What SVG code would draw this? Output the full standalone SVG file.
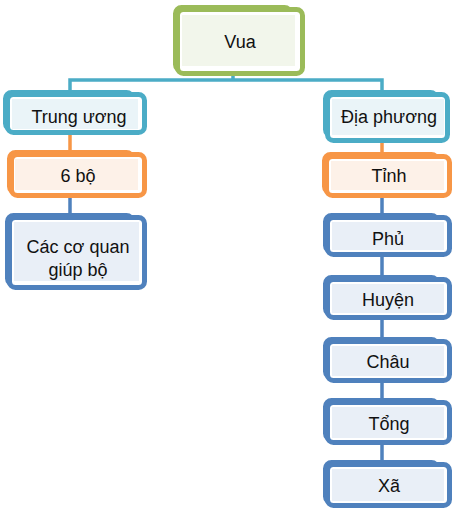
<svg xmlns="http://www.w3.org/2000/svg" width="463" height="519" viewBox="0 0 463 519">
<style>
.bk{stroke-width:5;fill:none}
.fr{stroke-width:5;fill:#ffffff}
.g{stroke:#9bbb59}
.t{stroke:#4bacc6}
.o{stroke:#f79646}
.b{stroke:#4f81bd}
.fg{fill:#f2f6eb}
.ft{fill:#eaf4f8}
.fo{fill:#fdf1e8}
.fb{fill:#e9eff7}
.c{fill:none;stroke-width:3.5}
text{font-family:"Liberation Sans",Arial,sans-serif;font-size:18px;fill:#111111;text-anchor:middle}
</style>
<rect width="463" height="519" fill="#ffffff"/>
<g id="connectors">
<path class="c t" d="M233,74 V80 M70,93 V80 H382 V93"/>
<path class="c o" d="M70,133 V152 M382,140 V154"/>
<path class="c b" d="M70,196 V215 M382,196 V215 M382,255 V277 M382,318 V339 M382,381 V400 M382,443 V462"/>
</g>
<g id="vua">
<rect class="bk g" x="175.5" y="7.5" width="115" height="63" rx="6"/>
<rect class="fr g" x="177.5" y="9.5" width="125" height="64" rx="6"/>
<rect class="fg" x="182" y="15" width="113" height="51"/>
<text x="240" y="48">Vua</text>
</g>
<g id="trung-uong">
<rect class="bk t" x="5.5" y="92.5" width="127" height="37" rx="6"/>
<rect class="fr t" x="7.5" y="94.5" width="137" height="38" rx="6"/>
<rect class="ft" x="12" y="99" width="126" height="30"/>
<text x="79" y="123">Trung ương</text>
</g>
<g id="sau-bo">
<rect class="bk o" x="9.5" y="152.5" width="123" height="40" rx="6"/>
<rect class="fr o" x="11.5" y="154.5" width="133" height="41" rx="6"/>
<rect class="fo" x="15" y="159" width="123" height="31"/>
<text x="78" y="182">6 bộ</text>
</g>
<g id="cac-co-quan">
<rect class="bk b" x="7.5" y="215.5" width="125" height="69" rx="6"/>
<rect class="fr b" x="9.5" y="217.5" width="135" height="70" rx="6"/>
<rect class="fb" x="14" y="222" width="125" height="59"/>
<text x="78" y="253">Các cơ quan</text>
<text x="78" y="276">giúp bộ</text>
</g>
<g id="dia-phuong">
<rect class="bk t" x="325.5" y="92.5" width="111" height="43" rx="6"/>
<rect class="fr t" x="327.5" y="94.5" width="120" height="46" rx="6"/>
<rect class="ft" x="332" y="99" width="112" height="36"/>
<text x="389" y="123">Địa phương</text>
</g>
<g id="tinh">
<rect class="bk o" x="324.5" y="154.5" width="113" height="38" rx="6"/>
<rect class="fr o" x="326.5" y="156.5" width="123" height="39" rx="6"/>
<rect class="fo" x="331" y="161" width="113" height="29"/>
<text x="389" y="182">Tỉnh</text>
</g>
<g id="phu">
<rect class="bk b" x="325.5" y="215.5" width="112" height="36" rx="6"/>
<rect class="fr b" x="327.5" y="217.5" width="122" height="37" rx="6"/>
<rect class="fb" x="332" y="222" width="112" height="28"/>
<text x="388" y="245">Phủ</text>
</g>
<g id="huyen">
<rect class="bk b" x="325.5" y="277.5" width="112" height="37" rx="6"/>
<rect class="fr b" x="327.5" y="279.5" width="122" height="38" rx="6"/>
<rect class="fb" x="332" y="284" width="112" height="29"/>
<text x="388" y="306">Huyện</text>
</g>
<g id="chau">
<rect class="bk b" x="325.5" y="339.5" width="112" height="38" rx="6"/>
<rect class="fr b" x="327.5" y="341.5" width="122" height="39" rx="6"/>
<rect class="fb" x="332" y="346" width="112" height="30"/>
<text x="388" y="368">Châu</text>
</g>
<g id="tong">
<rect class="bk b" x="325.5" y="400.5" width="112" height="39" rx="6"/>
<rect class="fr b" x="327.5" y="402.5" width="122" height="40" rx="6"/>
<rect class="fb" x="332" y="407" width="112" height="31"/>
<text x="389" y="430">Tổng</text>
</g>
<g id="xa">
<rect class="bk b" x="325.5" y="462.5" width="112" height="40" rx="6"/>
<rect class="fr b" x="327.5" y="464.5" width="122" height="41" rx="6"/>
<rect class="fb" x="332" y="469" width="112" height="32"/>
<text x="389" y="492">Xã</text>
</g>
</svg>
